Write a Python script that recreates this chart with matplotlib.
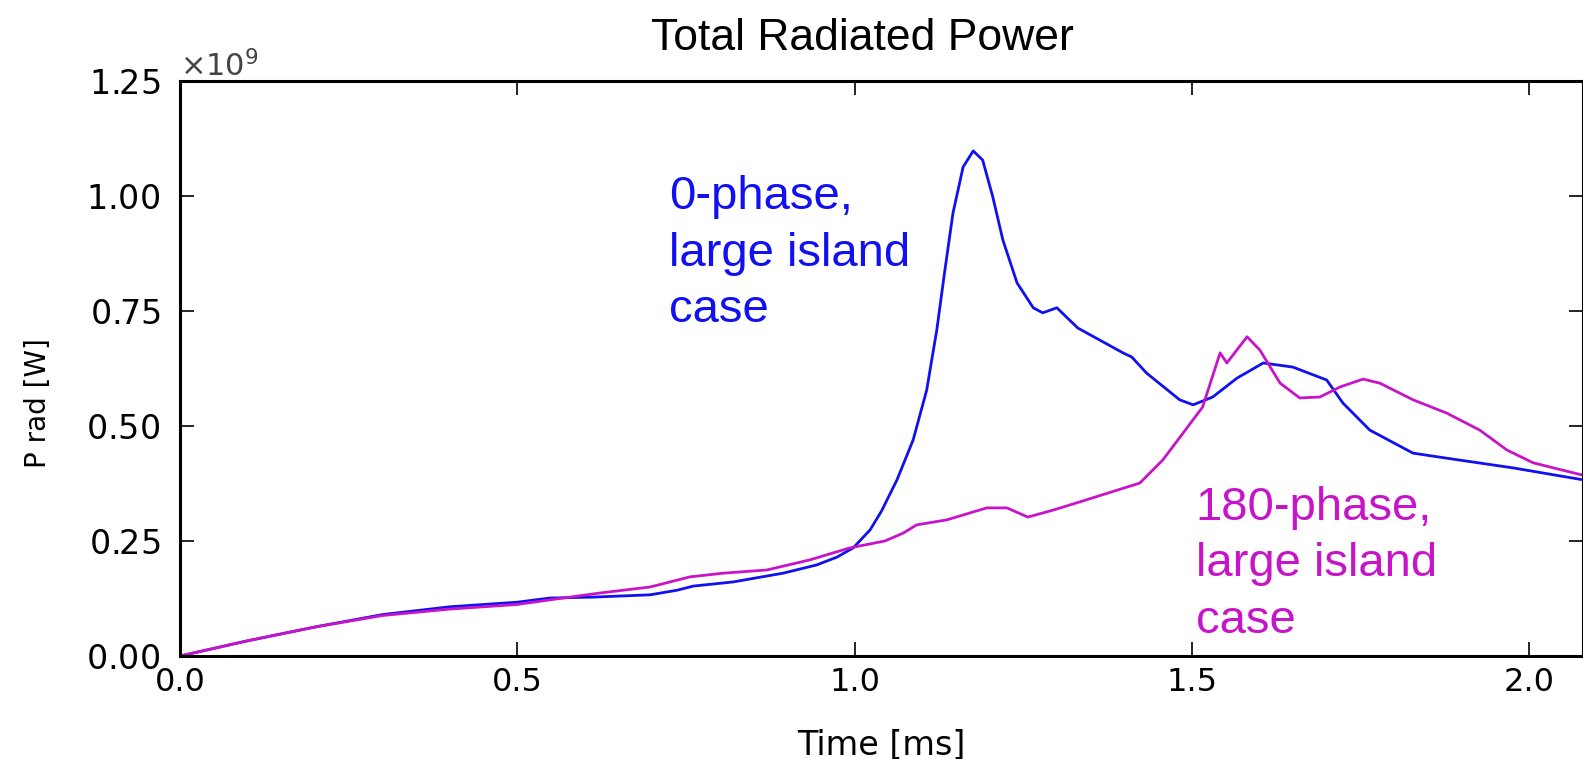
import matplotlib
matplotlib.use("Agg")
import matplotlib.pyplot as plt
from matplotlib.ticker import ScalarFormatter

# Time [ms] and radiated power [x1e9 W]
t_blue = [0.0, 0.1, 0.2, 0.3, 0.4, 0.5, 0.548, 0.612, 0.697, 0.737, 0.761, 0.82,
          0.894, 0.944, 0.974, 0.998, 1.023, 1.04, 1.063, 1.087, 1.107, 1.122,
          1.134, 1.146, 1.161, 1.176, 1.19, 1.205, 1.22, 1.241, 1.265, 1.279,
          1.3, 1.331, 1.398, 1.411, 1.433, 1.482, 1.502, 1.531, 1.567, 1.606,
          1.65, 1.7, 1.724, 1.764, 1.828, 1.878, 1.976, 2.08]
p_blue = [0.0, 0.033, 0.063, 0.09, 0.107, 0.117, 0.126, 0.128, 0.133, 0.143,
          0.152, 0.161, 0.18, 0.198, 0.215, 0.235, 0.274, 0.315, 0.383, 0.47,
          0.578, 0.709, 0.839, 0.963, 1.063, 1.098, 1.078, 0.998, 0.904, 0.811,
          0.757, 0.746, 0.757, 0.713, 0.659, 0.65, 0.615, 0.557, 0.546, 0.563,
          0.604, 0.637, 0.628, 0.6, 0.55, 0.491, 0.441, 0.43, 0.409, 0.383]

t_mag = [0.0, 0.1, 0.2, 0.3, 0.4, 0.5, 0.548, 0.623, 0.697, 0.756, 0.805, 0.87,
         0.934, 0.993, 1.045, 1.072, 1.092, 1.137, 1.196, 1.226, 1.257, 1.294,
         1.334, 1.423, 1.457, 1.516, 1.542, 1.552, 1.582, 1.601, 1.631, 1.66,
         1.69, 1.72, 1.754, 1.779, 1.828, 1.878, 1.927, 1.967, 2.006, 2.08]
p_mag = [0.0, 0.033, 0.063, 0.088, 0.102, 0.112, 0.122, 0.137, 0.15, 0.172,
         0.18, 0.187, 0.209, 0.235, 0.25, 0.267, 0.285, 0.296, 0.322, 0.322,
         0.302, 0.317, 0.335, 0.376, 0.426, 0.541, 0.659, 0.637, 0.694, 0.665,
         0.593, 0.561, 0.563, 0.585, 0.602, 0.593, 0.557, 0.528, 0.491, 0.448,
         0.42, 0.393]

SCALE = 1e9
x_ticks = [0.0, 0.5, 1.0, 1.5, 2.0]
y_ticks = [0.0, 0.25, 0.5, 0.75, 1.0, 1.25]

BLUE = "#1010f0"
MAG = "#c814c8"

fig = plt.figure(figsize=(15.83, 7.59), dpi=100)
ax = fig.add_axes([0.1137, 0.1357, 0.8863, 0.7576])

ax.plot(t_blue, [v * SCALE for v in p_blue], color=BLUE, lw=2.0,
        solid_joinstyle="round")
ax.plot(t_mag, [v * SCALE for v in p_mag], color=MAG, lw=2.0,
        solid_joinstyle="round")

ax.set_xlim(0, 2.08)
ax.set_ylim(0, 1.25 * SCALE)
ax.set_xticks(x_ticks)
ax.set_yticks([v * SCALE for v in y_ticks])
ax.xaxis.set_major_formatter(plt.FuncFormatter(lambda v, p: f"{v:.1f}"))
fmt = ScalarFormatter(useMathText=True)
fmt.set_powerlimits((0, 0))
ax.yaxis.set_major_formatter(fmt)
ax.yaxis.get_offset_text().set_fontsize(22)
ax.yaxis.get_offset_text().set_color("#444444")

ax.tick_params(direction="in", length=10, width=1.2, top=True, right=True)
ax.tick_params(axis="x", labelsize=23, pad=8)
ax.tick_params(axis="y", labelsize=24, pad=14)
for s in ax.spines.values():
    s.set_linewidth(2.2)

ax.set_xlabel("Time [ms]", fontsize=24)
ax.xaxis.label.set_va("baseline")
ax.xaxis.set_label_coords(0.5, -0.172)
ax.set_ylabel("P rad [W]", fontsize=20)
ax.yaxis.label.set_va("center")
ax.yaxis.set_label_coords(-0.101, 0.44)

fig.text(0.5446, 1 - 50 / 759, "Total Radiated Power", fontsize=32,
         family="Liberation Sans", ha="center", va="baseline")

ax.text(0.725, 1.045 * SCALE, "0-phase,\nlarge island\ncase", color=BLUE,
        fontsize=34, family="Liberation Sans", va="top", ha="left",
        linespacing=1.37)
ax.text(1.506, 0.37 * SCALE, "180-phase,\nlarge island\ncase", color=MAG,
        fontsize=34, family="Liberation Sans", va="top", ha="left",
        linespacing=1.37)

fig.savefig("out.png", dpi=100)
